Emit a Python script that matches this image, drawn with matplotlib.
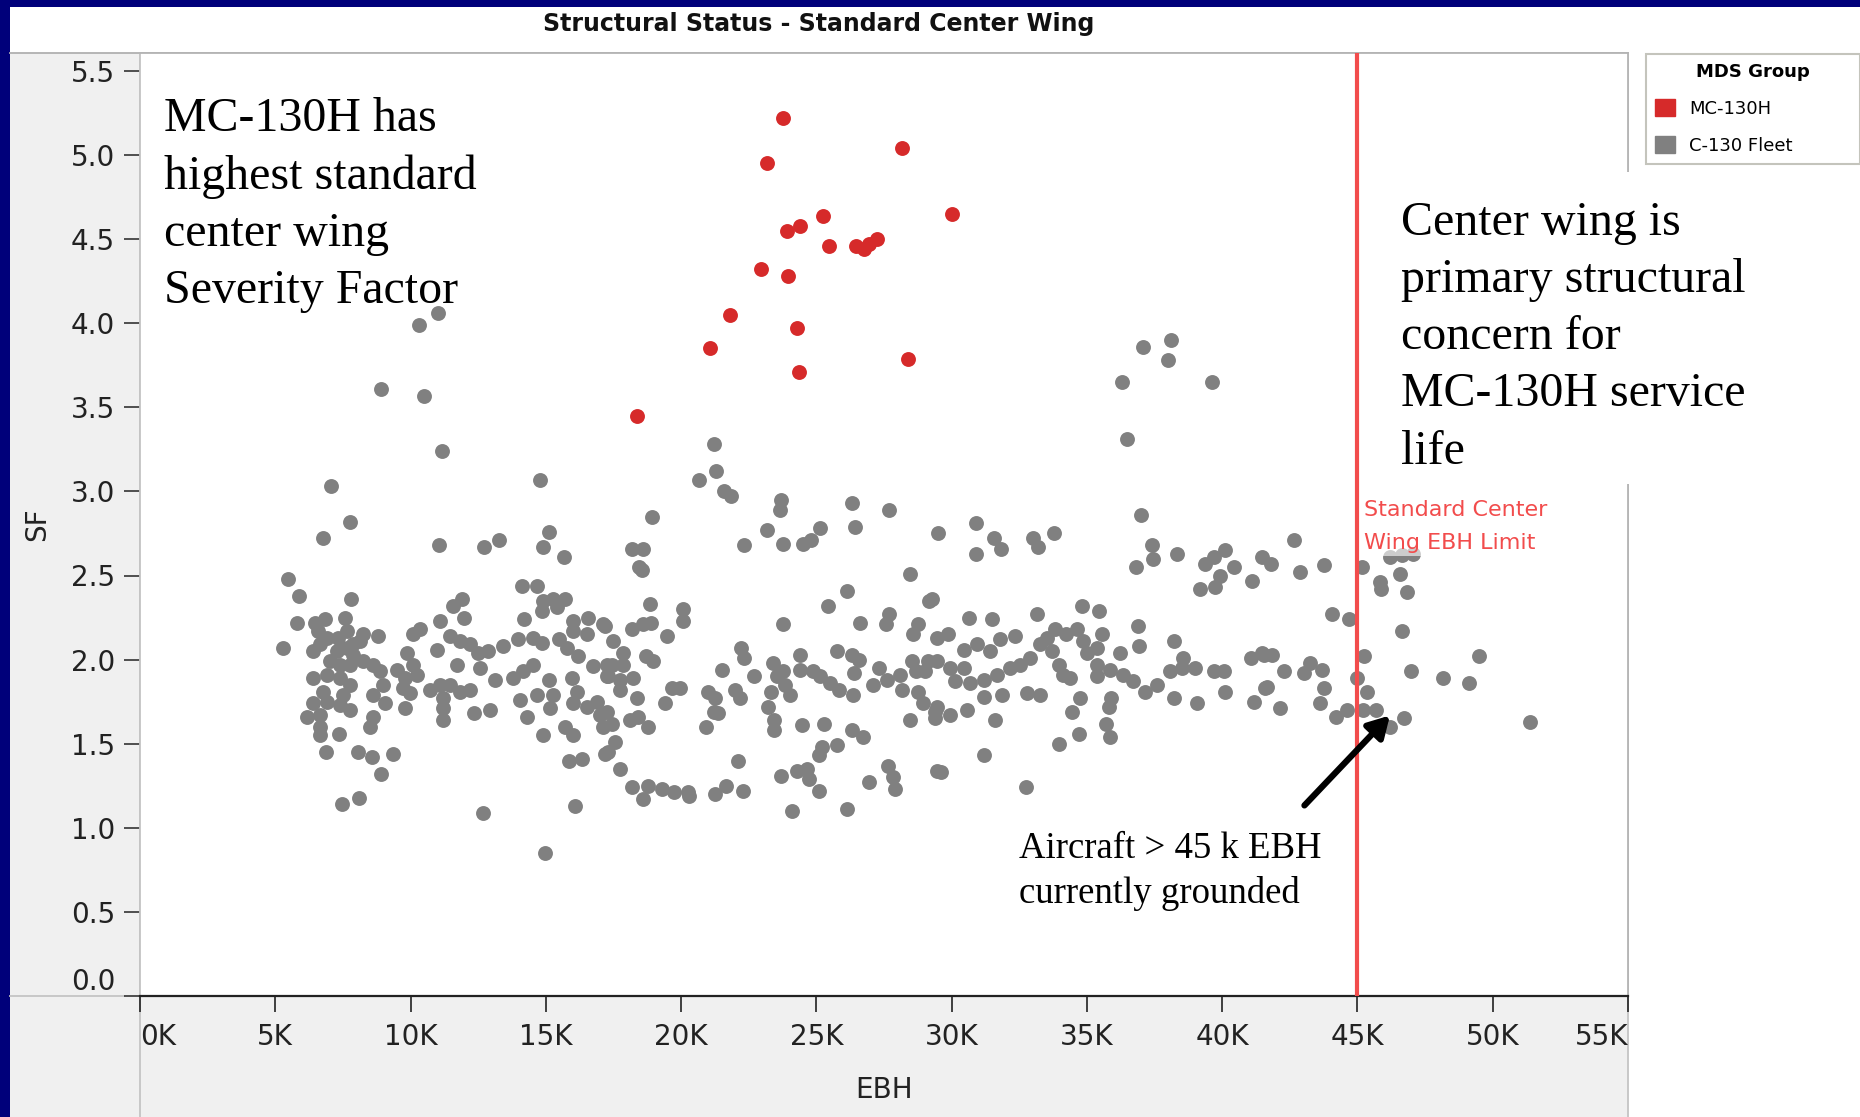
import matplotlib
matplotlib.use("Agg")
import matplotlib.pyplot as plt
from matplotlib.patches import Rectangle, Patch
from matplotlib.lines import Line2D
from matplotlib.ticker import FuncFormatter

# ---------------- data (EBH in thousands of hours, SF) ----------------
mc130h_ebh_k = [23.77, 23.16, 28.16, 30.02, 25.26, 24.39, 23.90, 25.47, 26.47, 26.76,
                26.95, 27.25, 22.97, 23.96, 21.79, 21.06, 24.30, 28.38, 24.35, 18.37]
mc130h_sf = [5.22, 4.95, 5.04, 4.65, 4.64, 4.58, 4.55, 4.46, 4.46, 4.44,
             4.47, 4.50, 4.32, 4.28, 4.05, 3.85, 3.97, 3.79, 3.71, 3.45]

fleet_upper = [(11.0, 4.06), (10.3, 3.99), (8.9, 3.61), (10.48, 3.57), (11.18, 3.24), (7.06, 3.03),
               (14.78, 3.07), (21.2, 3.28), (20.66, 3.07), (21.3, 3.12), (21.6, 3.0), (21.84, 2.97),
               (23.68, 2.95), (36.3, 3.65), (37.06, 3.86), (38.1, 3.9), (37.98, 3.78), (36.5, 3.31),
               (39.64, 3.65), (37.0, 2.86)]

fleet_band_a = [(7.78, 2.82), (6.75, 2.72), (11.07, 2.68), (12.72, 2.67), (13.26, 2.71), (15.11, 2.76),
                (14.91, 2.67), (15.69, 2.61), (5.48, 2.48), (5.87, 2.38), (7.79, 2.36), (5.79, 2.22),
                (5.30, 2.07), (6.47, 2.22), (6.84, 2.24), (7.58, 2.25), (6.59, 2.17), (6.41, 2.05),
                (6.65, 2.09), (6.90, 2.13), (7.33, 2.13), (7.64, 2.17), (7.89, 2.09), (8.13, 2.11),
                (8.26, 2.15), (8.81, 2.14), (7.27, 2.05), (7.64, 2.07), (7.89, 2.03), (7.02, 1.99),
                (7.39, 1.97), (7.76, 1.97), (8.26, 1.99), (8.63, 1.97), (8.87, 1.93), (6.41, 1.89),
                (6.90, 1.91), (7.39, 1.89), (7.76, 1.85), (6.78, 1.81), (7.52, 1.79), (8.63, 1.79),
                (9.00, 1.85), (6.41, 1.74), (6.90, 1.75), (7.39, 1.73), (7.76, 1.70), (6.16, 1.66),
                (6.65, 1.67), (9.06, 1.74), (8.63, 1.66), (8.50, 1.60), (6.65, 1.60), (6.65, 1.55),
                (7.36, 1.56), (6.88, 1.45), (8.07, 1.45), (8.56, 1.42), (9.34, 1.44), (8.90, 1.32),
                (7.48, 1.14), (8.11, 1.18), (9.49, 1.94), (9.86, 2.04), (10.10, 2.15), (10.35, 2.18),
                (9.80, 1.89), (10.10, 1.97), (10.23, 1.91), (9.73, 1.83), (9.98, 1.80), (9.80, 1.71),
                (10.72, 1.82), (11.09, 1.85), (11.46, 1.85), (11.83, 1.81), (12.20, 1.82), (11.21, 1.77),
                (11.21, 1.71), (11.21, 1.64), (11.09, 2.23), (11.58, 2.32), (11.89, 2.36), (11.98, 2.25),
                (10.97, 2.06), (11.46, 2.14), (11.83, 2.11), (12.20, 2.09), (11.71, 1.97), (12.51, 2.04),
                (12.57, 1.95), (12.88, 2.05), (13.43, 2.08), (13.12, 1.88), (12.35, 1.68), (12.94, 1.70),
                (12.69, 1.09), (14.97, 0.85), (14.12, 2.44), (14.66, 2.44), (14.91, 2.35), (15.28, 2.36),
                (15.71, 2.36), (14.85, 2.29), (15.40, 2.31), (14.20, 2.24), (13.99, 2.12), (14.54, 2.13),
                (14.85, 2.10), (15.47, 2.12), (16.02, 2.23), (16.57, 2.25), (16.51, 2.15), (16.02, 2.17),
                (15.77, 2.07), (16.20, 2.02), (17.13, 2.21), (16.76, 1.96), (13.80, 1.89), (14.17, 1.93),
                (14.54, 1.97), (15.10, 1.88), (14.05, 1.76), (14.66, 1.79), (15.28, 1.79), (14.30, 1.66),
                (15.16, 1.71), (15.96, 1.89), (16.14, 1.81), (16.02, 1.74), (16.51, 1.72), (16.88, 1.75),
                (17.00, 1.67), (17.13, 1.60), (17.19, 1.44), (14.91, 1.55), (15.71, 1.60), (16.02, 1.55),
                (15.87, 1.40), (16.33, 1.41), (16.08, 1.13), (17.25, 1.90), (17.25, 1.97)]

fleet_band_b = [(23.66, 2.89), (18.94, 2.85), (26.31, 2.93), (27.68, 2.89), (29.48, 2.75), (26.43, 2.79),
                (23.19, 2.77), (25.14, 2.78), (22.33, 2.68), (23.76, 2.69), (24.52, 2.69), (24.79, 2.71),
                (18.18, 2.66), (18.58, 2.66), (18.46, 2.55), (18.55, 2.53), (28.47, 2.51), (26.15, 2.41),
                (25.42, 2.32), (29.18, 2.35), (18.85, 2.33), (20.06, 2.30), (20.06, 2.23), (23.78, 2.21),
                (26.62, 2.22), (27.68, 2.27), (27.58, 2.21), (28.77, 2.21), (28.56, 2.15), (29.45, 2.13),
                (17.19, 2.20), (18.18, 2.18), (18.61, 2.21), (18.88, 2.22), (19.47, 2.14), (17.50, 2.11),
                (17.84, 2.04), (17.44, 1.97), (17.87, 1.97), (17.31, 1.90), (17.74, 1.88), (18.24, 1.89),
                (17.74, 1.82), (18.71, 2.02), (18.95, 1.99), (19.66, 1.83), (19.96, 1.83), (18.36, 1.77),
                (19.41, 1.74), (17.25, 1.69), (17.44, 1.62), (18.12, 1.64), (18.42, 1.66), (18.79, 1.60),
                (17.56, 1.51), (17.31, 1.45), (17.74, 1.35), (18.18, 1.24), (18.61, 1.17), (18.79, 1.25),
                (19.29, 1.23), (19.72, 1.21), (20.27, 1.21), (20.31, 1.19), (21.26, 1.20), (21.66, 1.25),
                (22.28, 1.22), (22.12, 1.40), (22.21, 2.07), (22.34, 2.01), (21.53, 1.94), (22.70, 1.90),
                (21.01, 1.81), (21.26, 1.77), (21.99, 1.82), (22.18, 1.77), (21.20, 1.69), (21.38, 1.68),
                (20.92, 1.60), (23.41, 1.98), (23.54, 1.90), (23.78, 1.93), (23.85, 1.85), (24.03, 1.79),
                (23.32, 1.81), (23.23, 1.72), (23.44, 1.64), (23.45, 1.58), (24.40, 2.03), (24.38, 1.94),
                (24.89, 1.93), (25.14, 1.90), (25.51, 1.86), (25.85, 1.82), (25.75, 2.05), (26.31, 2.03),
                (26.56, 2.00), (26.40, 1.92), (26.37, 1.79), (27.33, 1.95), (27.11, 1.85), (27.60, 1.88),
                (28.10, 1.91), (28.16, 1.82), (28.53, 1.99), (28.69, 1.93), (29.14, 1.99), (29.02, 1.93),
                (28.77, 1.81), (28.93, 1.74), (29.39, 1.69), (29.39, 1.65), (28.47, 1.64), (24.46, 1.61),
                (25.29, 1.62), (26.31, 1.58), (26.74, 1.54), (25.78, 1.49), (25.20, 1.48), (25.08, 1.43),
                (24.65, 1.35), (24.30, 1.34), (24.73, 1.29), (23.68, 1.31), (25.10, 1.22), (24.09, 1.10),
                (26.15, 1.11), (26.96, 1.27), (27.64, 1.37), (27.85, 1.30), (27.91, 1.23), (29.45, 1.34)]

fleet_band_c = [(30.89, 2.81), (30.89, 2.63), (31.55, 2.72), (31.82, 2.66), (33.00, 2.72), (33.21, 2.67),
                (33.79, 2.75), (36.81, 2.55), (37.40, 2.68), (37.46, 2.60), (38.32, 2.63), (39.37, 2.57),
                (39.68, 2.61), (40.11, 2.65), (39.93, 2.50), (40.42, 2.55), (39.19, 2.42), (39.74, 2.43),
                (41.10, 2.47), (41.47, 2.61), (29.27, 2.36), (34.81, 2.32), (35.43, 2.29), (36.87, 2.20),
                (36.91, 2.08), (30.66, 2.25), (31.51, 2.24), (33.15, 2.27), (29.88, 2.15), (30.44, 2.06),
                (30.93, 2.09), (31.42, 2.05), (31.79, 2.12), (32.35, 2.14), (29.45, 1.99), (29.94, 1.95),
                (30.44, 1.95), (30.13, 1.87), (30.68, 1.86), (31.18, 1.88), (31.67, 1.91), (32.16, 1.95),
                (32.53, 1.97), (32.90, 2.01), (33.27, 2.09), (33.52, 2.13), (33.83, 2.18), (33.70, 2.05),
                (33.95, 1.97), (34.13, 1.91), (34.38, 1.89), (34.23, 2.15), (34.63, 2.18), (34.87, 2.11),
                (35.00, 2.04), (35.37, 2.07), (35.55, 2.15), (35.37, 1.97), (35.37, 1.90), (35.86, 1.94),
                (36.23, 2.04), (36.35, 1.91), (36.72, 1.87), (37.15, 1.81), (37.58, 1.85), (38.08, 1.93),
                (38.57, 2.01), (38.23, 2.11), (38.51, 1.95), (39.00, 1.95), (39.68, 1.93), (40.05, 1.93),
                (41.07, 2.01), (41.47, 2.04), (41.59, 1.83), (41.16, 1.75), (40.11, 1.81), (39.06, 1.74),
                (38.23, 1.77), (31.18, 1.78), (31.85, 1.79), (32.78, 1.80), (33.27, 1.79), (29.45, 1.72),
                (29.94, 1.67), (30.56, 1.70), (31.61, 1.64), (34.75, 1.77), (34.44, 1.69), (35.88, 1.77),
                (35.82, 1.72), (35.70, 1.62), (35.86, 1.54), (34.71, 1.56), (33.97, 1.50), (31.18, 1.43),
                (29.61, 1.33), (32.74, 1.24)]

fleet_band_d = [(42.66, 2.71), (41.81, 2.57), (42.88, 2.52), (43.75, 2.56), (45.16, 2.55), (46.21, 2.61),
                (46.64, 2.62), (47.07, 2.63), (46.56, 2.51), (45.82, 2.46), (45.87, 2.42), (46.83, 2.40),
                (44.05, 2.27), (44.67, 2.24), (46.64, 2.17), (41.53, 2.03), (41.84, 2.03), (42.29, 1.93),
                (41.65, 1.84), (43.01, 1.92), (43.25, 1.98), (43.69, 1.94), (43.78, 1.83), (43.62, 1.74),
                (42.12, 1.71), (44.21, 1.66), (44.63, 1.70), (45.25, 2.02), (45.00, 1.89), (45.35, 1.81),
                (45.22, 1.70), (45.69, 1.70), (46.19, 1.60), (46.71, 1.65), (46.98, 1.93), (48.18, 1.89),
                (49.14, 1.86), (49.50, 2.02), (51.39, 1.63)]

x_ticks_k = [0, 5, 10, 15, 20, 25, 30, 35, 40, 45, 50, 55]
y_ticks = [0.0, 0.5, 1.0, 1.5, 2.0, 2.5, 3.0, 3.5, 4.0, 4.5, 5.0, 5.5]
limit_ebh_k = 45
legend_labels = ["MC-130H", "C-130 Fleet"]

RED = "#d62a2a"
GRAY = "#808080"
LIMIT_RED = "#f24c4c"

# ---------------- figure ----------------
W, H = 1860, 1117
fig = plt.figure(figsize=(W / 100, H / 100), dpi=100, facecolor="#00007a")


def fx(px):
    return px / W


def fy(py):
    return 1 - py / H


# panels
fig.patches.append(Rectangle((fx(10), 0), 1 - fx(10), fy(7), transform=fig.transFigure,
                             fc="white", ec="none", zorder=-3))
fig.patches.append(Rectangle((fx(10), 0), fx(140) - fx(10), fy(53), transform=fig.transFigure,
                             fc="#f0f0f0", ec="none", zorder=-2))
fig.patches.append(Rectangle((fx(10), 0), fx(1628) - fx(10), fy(996), transform=fig.transFigure,
                             fc="#f0f0f0", ec="none", zorder=-2))
for xs, ys, c in [([fx(140), fx(140)], [0, fy(53)], "#c4c4c4"),
                  ([fx(1628), fx(1628)], [0, fy(53)], "#c4c4c4"),
                  ([fx(10), fx(1628)], [fy(53), fy(53)], "#b0b0b0"),
                  ([fx(10), fx(124)], [fy(996), fy(996)], "#c4c4c4")]:
    fig.lines.append(Line2D(xs, ys, transform=fig.transFigure, color=c, lw=1.3, zorder=-1))

ax = fig.add_axes([fx(140), fy(996), fx(1628) - fx(140), fy(53) - fy(996)])
ax.set_facecolor("white")
ax.set_xlim(0, 55)
ax.set_ylim(0, (996 - 53) / 168.2)

fleet_all = fleet_upper + fleet_band_a + fleet_band_b + fleet_band_c + fleet_band_d
ax.scatter([p[0] for p in fleet_all], [p[1] for p in fleet_all], s=115, color=GRAY,
           linewidths=0, zorder=2)
ax.scatter(mc130h_ebh_k, mc130h_sf, s=115, color=RED, linewidths=0, zorder=3)
ax.axvline(limit_ebh_k, color=LIMIT_RED, lw=3, zorder=4)

ax.set_xticks(x_ticks_k)
ax.set_yticks(y_ticks)
ax.xaxis.set_major_formatter(FuncFormatter(lambda v, p: f"{int(round(v))}K"))
ax.yaxis.set_major_formatter(FuncFormatter(lambda v, p: f"{v:.1f}"))
ax.tick_params(axis="x", direction="out", length=11.5, width=1.2, color="#222222",
               pad=8, labelsize=20, labelcolor="#222222")
ax.tick_params(axis="y", direction="out", length=11.5, width=1.2, color="#333333",
               pad=6.5, labelsize=20, labelcolor="#222222")
xl = ax.get_xticklabels()
xl[0].set_ha("left")
xl[-1].set_ha("right")
ax.get_yticklabels()[0].set_va("bottom")

for side in ["top", "right"]:
    ax.spines[side].set_color("#b4b4b4")
    ax.spines[side].set_linewidth(1.3)
ax.spines["left"].set_color("#c4c4c4")
ax.spines["left"].set_linewidth(1.3)
ax.spines["bottom"].set_color("#222222")
ax.spines["bottom"].set_linewidth(1.6)

ax.set_xlabel("EBH", fontsize=20, labelpad=18, color="#222222")
ax.set_ylabel("SF", fontsize=20, labelpad=14, color="#222222")

fig.text(fx(819), fy(24.5), "Structural Status - Standard Center Wing", ha="center", va="center",
         fontsize=17, fontweight="bold", color="#111111")

# legend
handles = [Patch(facecolor=RED, edgecolor=RED), Patch(facecolor=GRAY, edgecolor=GRAY)]
leg = fig.legend(handles, legend_labels, title="MDS Group", loc="upper left",
                 bbox_to_anchor=(fx(1646), fy(170), 1.0 - fx(1646), fy(54) - fy(170)),
                 mode="expand", fontsize=13, title_fontproperties={"weight": "bold", "size": 13},
                 handlelength=1.1, handleheight=1.1, handletextpad=0.8, labelspacing=1.0,
                 borderpad=0.5, borderaxespad=0, fancybox=False, framealpha=1)
leg.get_frame().set_edgecolor("#c4c4bc")
leg.get_frame().set_linewidth(1.5)

# annotations
serif = "Liberation Serif"
fig.text(fx(164), fy(97), "MC-130H has\nhighest standard\ncenter wing\nSeverity Factor",
         family=serif, fontsize=34.5, va="top", ha="left", linespacing=1.39, color="black", zorder=6)

fig.patches.append(Rectangle((fx(1382), fy(484)), fx(1767) - fx(1382), fy(172) - fy(484),
                             transform=fig.transFigure, fc="white", ec="none", zorder=1.5))
fig.text(fx(1401), fy(200.6), "Center wing is\nprimary structural\nconcern for\nMC-130H service\nlife",
         family=serif, fontsize=34.5, va="top", ha="left", linespacing=1.39, color="black", zorder=6)

fig.text(fx(1019), fy(832), "Aircraft > 45 k EBH\ncurrently grounded",
         family=serif, fontsize=26.5, va="top", ha="left", linespacing=1.35, color="black", zorder=6)

fig.text(fx(1364), fy(500), "Standard Center\nWing EBH Limit", fontsize=16, color=LIMIT_RED,
         va="top", ha="left", linespacing=1.83, zorder=6,
         bbox=dict(fc="white", ec="none", alpha=0.6, pad=2))

ax.annotate("", xy=(46.2, 1.668), xytext=(43.04, 1.133),
            arrowprops=dict(arrowstyle="-|>,head_length=0.7,head_width=0.4", lw=4.5,
                            color="black", shrinkA=0, shrinkB=0, mutation_scale=18),
            zorder=7)

fig.savefig("out.png", dpi=100, facecolor=fig.get_facecolor())
